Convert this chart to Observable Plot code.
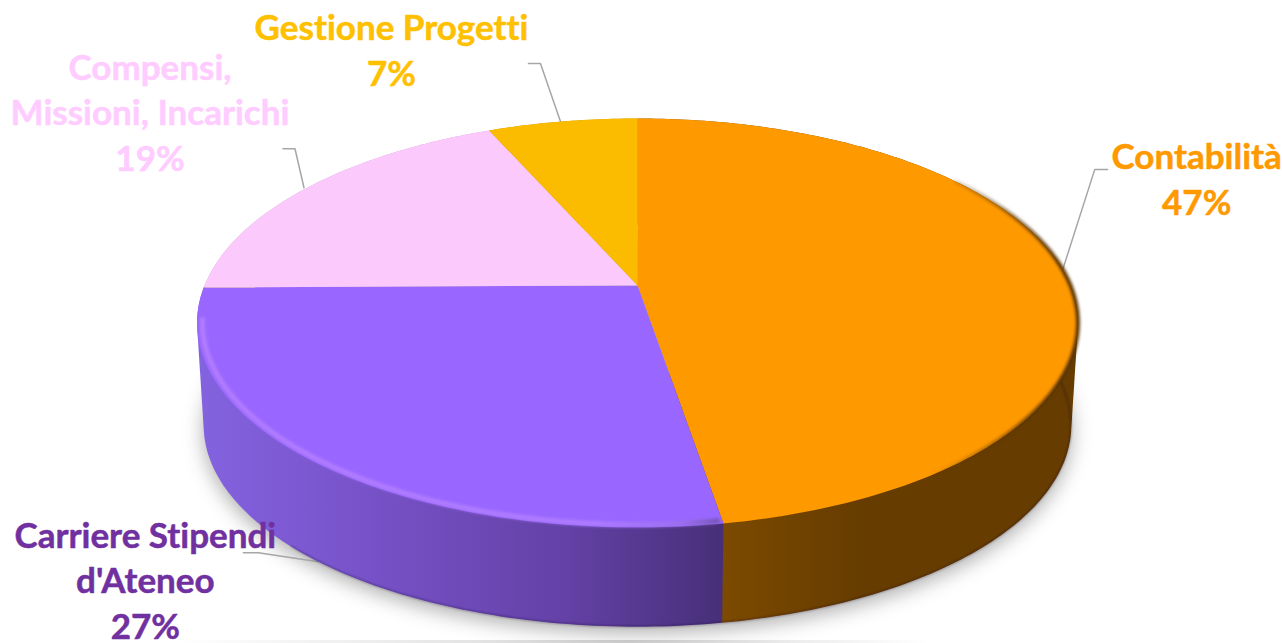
<!DOCTYPE html>
<html>
<head>
<meta charset="utf-8">
<script src="https://cdn.jsdelivr.net/npm/d3@7"></script>
<script src="https://cdn.jsdelivr.net/npm/@observablehq/plot@0.6"></script>
<style>
html,body{margin:0;padding:0;background:#fff;overflow:hidden}
svg{display:block}
text{font-variant-ligatures:none}
</style>
</head>
<body>
<div id="chart"></div>
<script>
// Data
const categories = ["Contabilità", "Carriere Stipendi\nd'Ateneo", "Compensi,\nMissioni, Incarichi", "Gestione Progetti"];
const shares = [0.474, 0.2745, 0.186, 0.0655];
const faceColors = ["#FF9900", "#9966FF", "#FBC9FC", "#FBBC00"];
const textColors = ["#FF9900", "#7030A0", "#FFCCFF", "#FFC000"];
const wallColors = ["url(#wallOrange)", "url(#wallPurple)", "#c9a0ca", "#c99600"];

// Pixel offsets of the labels and leader points relative to each slice's rim anchor
const labelOffsets = [[134, -92], [-173, 17], [-157, -77], [-171, -73]];
const leaderOffsets = [
  [[0, 0], [32, -100], [45, -100]],
  [[0, 0], [-60, -9], [-75, -9]],
  [[-3, 0], [-12, -39], [-24, -39]],
  [[-2, 0], [-22, -58], [-34, -58]]
];

// Chart geometry (scales of the tilted disc)
const W = 1282, H = 643, CX = 637, CY = 285, RX = 433, RY = 197.6;
const PERSPECTIVE = 0.183, BOTTOM_SCALE = 0.985, DEPTH = 103 / RY;

const rim = (a, level = 0, inset = 1) => {
  const u = Math.sin(a), v = -Math.cos(a), w = 1 - PERSPECTIVE * v;
  const s = (level ? BOTTOM_SCALE : 1) * inset;
  return {x: (u / w) * s, y: (v / w) * s + level * DEPTH};
};
const arc = (a0, a1, level = 0, inset = 1) => {
  const n = Math.max(2, Math.ceil(Math.abs(a1 - a0) * 60));
  return d3.range(n + 1).map((i) => rim(a0 + ((a1 - a0) * i) / n, level, inset));
};
const hull = (points) => d3.polygonHull(points.map((p) => [p.x * RX, p.y * RY])).map(([x, y]) => ({x: x / RX, y: y / RY}));

const pieArcs = d3.pie().sort(null).value((d) => d)(shares);
const face = pieArcs.map((p) => [{x: 0, y: 0}, ...arc(p.startAngle, p.endAngle)]);
const wall = pieArcs.map((p) => hull([...arc(p.startAngle, p.endAngle), ...arc(p.endAngle, p.startAngle, 1)]));
const anchors = pieArcs.map((p) => {
  const mid = (p.startAngle + p.endAngle) / 2;
  return rim(mid, -Math.cos(mid) > 0.1 ? 1 : 0);
});
const leaders = anchors.map((a, i) => leaderOffsets[i].map(([ox, oy]) => ({x: a.x + ox / RX, y: a.y + oy / RY})));
const labels = categories.map((c, i) => ({
  text: `${c}\n${d3.format(".0%")(shares[i])}`,
  x: anchors[i].x, y: anchors[i].y
}));
const ORANGE = pieArcs[0], PURPLE = pieArcs[1];
const shadow = arc(0, 2 * Math.PI, 1).map((p) => ({x: p.x, y: p.y + 6 / RY}));
const floorStrip = [{x1: (175 - CX) / RX, x2: (930 - CX) / RX, y1: (640 - CY) / RY, y2: (643 - CY) / RY}];

const chart = Plot.plot({
  width: W, height: H, margin: 0,
  style: {background: "#fff", overflow: "hidden"},
  x: {domain: [-1, 1], range: [CX - RX, CX + RX], axis: null},
  y: {domain: [-1, 1], range: [CY - RY, CY + RY], axis: null},
  marks: [
    Plot.rect(floorStrip, {x1: "x1", x2: "x2", y1: "y1", y2: "y2", fill: "url(#floor)", inset: 0}),
    Plot.line(shadow, {x: "x", y: "y", fill: "#000", fillOpacity: 0.32, stroke: "none"}),
    ...leaders.map((l) => Plot.line(l, {x: "x", y: "y", stroke: "#A6A6A6", strokeWidth: 1.5, strokeLinejoin: "miter"})),
    ...[3, 2, 0, 1].map((i) => Plot.line(wall[i], {x: "x", y: "y", fill: wallColors[i], stroke: "none"})),
    Plot.line(arc(Math.PI / 2.4, Math.PI * 1.25, 1, 0.999), {x: "x", y: "y", stroke: "#1d0a30", strokeOpacity: 0.35, strokeWidth: 1.6}),
    ...face.map((f, i) => Plot.line(f, {x: "x", y: "y", fill: faceColors[i], stroke: "none"})),
    Plot.line(arc(0.95, ORANGE.endAngle - 0.01), {x: "x", y: "y", stroke: "url(#edgeOrange)", strokeWidth: 4}),
    Plot.line(arc(PURPLE.startAngle + 0.01, PURPLE.endAngle - 0.16, 0, 0.988), {x: "x", y: "y", stroke: "url(#bevelPurple)", strokeWidth: 5}),
    ...labels.map((l, i) => Plot.text([l], {
      x: "x", y: "y", text: "text",
      dx: labelOffsets[i][0], dy: labelOffsets[i][1],
      fill: textColors[i], stroke: textColors[i], strokeWidth: 0.5,
      fontSize: 35, fontWeight: 700, fontFamily: "Lato",
      lineHeight: 1.3, textAnchor: "middle", lineAnchor: "middle"
    }))
  ]
});

const defs = d3.select(chart).insert("defs", ":first-child");
const blur = (id, sd) => defs.append("filter").attr("id", id)
  .attr("filterUnits", "userSpaceOnUse").attr("x", -50).attr("y", -50).attr("width", W + 100).attr("height", H + 100)
  .append("feGaussianBlur").attr("stdDeviation", sd);
blur("blurEdge", 1.8);
blur("blurLine", 0.8);
blur("blurShadow", 10);
const gradient = (id, x1, x2, stops) => {
  const g = defs.append("linearGradient").attr("id", id).attr("gradientUnits", "userSpaceOnUse")
    .attr("x1", x1).attr("x2", x2).attr("y1", 0).attr("y2", 0);
  stops.forEach(([o, c, a = 1]) => g.append("stop").attr("offset", o).attr("stop-color", c).attr("stop-opacity", a));
};
gradient("wallPurple", 197, 723, [[0, "#8463E0"], [0.3, "#7853CA"], [0.7, "#6341A6"], [1, "#472F78"]]);
gradient("wallOrange", 723, 860, [[0, "#7C4A00"], [1, "#663C00"]]);
gradient("bevelPurple", 197, 723, [[0, "#B27DFF"], [0.75, "#AE7CFF"], [0.92, "#9C70EE"], [1, "#6F52A8"]]);
gradient("edgeOrange", 930, 1060, [[0, "#5c3500", 0], [1, "#5c3500", 1]]);
gradient("floor", 175, 930, [[0, "#d6d6d6", 0], [0.6, "#d6d6d6", 1], [1, "#d6d6d6", 0]]);

// Blur the shadow, the wall's foot and the two rim edges (line marks, in drawing order)
const lineGroups = d3.select(chart).selectAll('g[aria-label="line"]').nodes();
lineGroups[0].setAttribute("filter", "url(#blurShadow)");
lineGroups[9].setAttribute("filter", "url(#blurLine)");
lineGroups.slice(-2).forEach((g) => g.setAttribute("filter", "url(#blurEdge)"));
document.getElementById("chart").append(chart);
</script>
</body>
</html>
